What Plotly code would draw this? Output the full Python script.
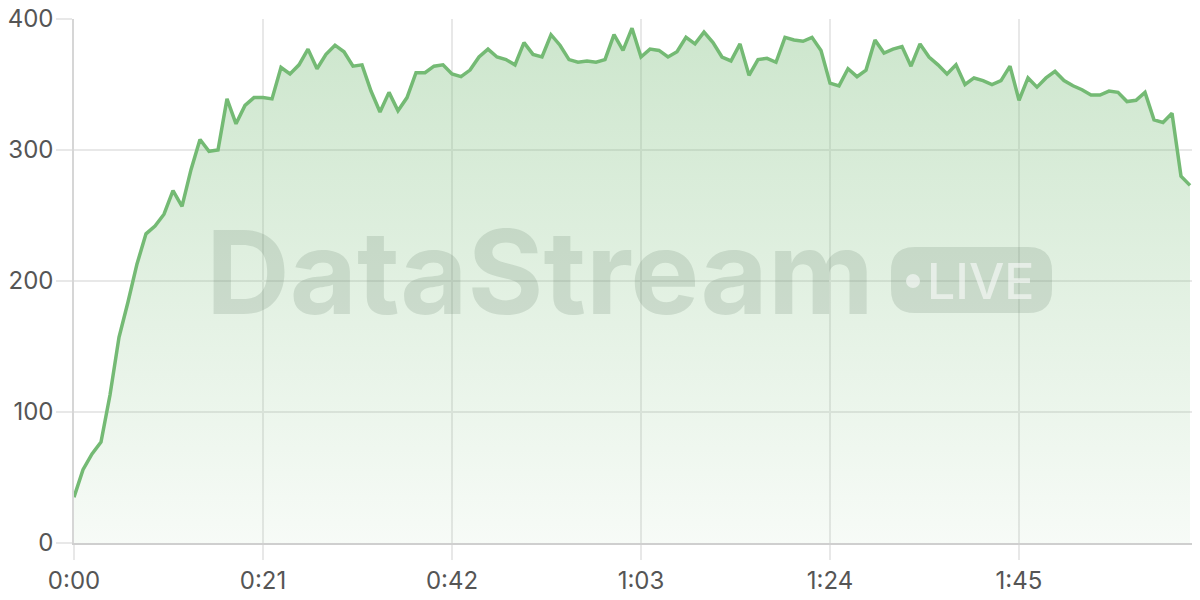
import plotly.graph_objects as go

# valores por segundo (0:00 ate 2:04)
valores = [
    35, 56, 68, 77, 113, 157, 184, 213, 236, 242,
    251, 269, 257, 285, 308, 299, 300, 339, 320, 334,
    340, 340, 339, 363, 358, 365, 377, 362, 373, 380,
    375, 364, 365, 345, 329, 344, 330, 340, 359, 359,
    364, 365, 358, 356, 361, 371, 377, 371, 369, 365,
    382, 373, 371, 388, 380, 369, 367, 368, 367, 369,
    388, 376, 393, 371, 377, 376, 371, 375, 386, 381,
    390, 382, 371, 368, 381, 357, 369, 370, 367, 386,
    384, 383, 386, 376, 351, 349, 362, 356, 361, 384,
    374, 377, 379, 364, 381, 371, 365, 358, 365, 350,
    355, 353, 350, 353, 364, 338, 355, 348, 355, 360,
    353, 349, 346, 342, 342, 345, 344, 337, 338, 344,
    323, 321, 328, 280, 273,
]
segundos = list(range(len(valores)))

ticks_x = [0, 21, 42, 63, 84, 105]
rotulos_x = ["0:00", "0:21", "0:42", "1:03", "1:24", "1:45"]
ticks_y = [0, 100, 200, 300, 400]

verde = "rgb(116,186,116)"
cinza_grade = "#e8e8e8"

# a pagina tem 8px de margem no body: a figura comeca em (8, 8)
OFF = 8
# area do grafico em pixels da pagina (para posicionar a marca d'agua)
ESQ, DIR, TOPO, BASE = 74, 1200, 19, 543


def px_x(p):
    return (p - ESQ) / (DIR - ESQ)


def px_y(p):
    return (BASE - p) / (BASE - TOPO)


fig = go.Figure()
fig.add_trace(
    go.Scatter(
        x=segundos,
        y=valores,
        mode="lines",
        line=dict(color=verde, width=3.5),
        fill="tozeroy",
        fillgradient=dict(
            type="vertical",
            colorscale=[
                [0, "rgba(116,186,116,0.06)"],
                [1, "rgba(116,186,116,0.36)"],
            ],
        ),
        hoverinfo="skip",
    )
)

# marca d'agua "DataStream  LIVE"
cor_marca = "rgba(95,120,100,0.19)"
fig.add_annotation(
    text="<b>DataStream</b>",
    xref="paper", yref="paper",
    x=px_x(540), y=px_y(272),
    xanchor="center", yanchor="middle",
    showarrow=False,
    font=dict(family="Inter", size=116, color=cor_marca),
)

x0, x1, y0, y1, r = 891, 1052, 247, 313, 24


def pt(a, b):
    return f"{px_x(a):.5f},{px_y(b):.5f}"


caminho = (
    f"M {pt(x0 + r, y0)} L {pt(x1 - r, y0)} Q {pt(x1, y0)} {pt(x1, y0 + r)} "
    f"L {pt(x1, y1 - r)} Q {pt(x1, y1)} {pt(x1 - r, y1)} "
    f"L {pt(x0 + r, y1)} Q {pt(x0, y1)} {pt(x0, y1 - r)} "
    f"L {pt(x0, y0 + r)} Q {pt(x0, y0)} {pt(x0 + r, y0)} Z"
)
fig.add_shape(
    type="path", path=caminho, xref="paper", yref="paper",
    fillcolor=cor_marca, line=dict(width=0),
)
fig.add_shape(
    type="circle", xref="paper", yref="paper",
    x0=px_x(906), x1=px_x(920), y0=px_y(288), y1=px_y(274),
    fillcolor="rgba(255,255,255,0.55)", line=dict(width=0),
)
fig.add_annotation(
    text="LIVE",
    xref="paper", yref="paper",
    x=px_x(925), y=px_y(281),
    xanchor="left", yanchor="middle",
    showarrow=False,
    font=dict(family="Inter", size=50, weight=500, color="rgba(255,255,255,0.55)"),
)

fig.update_layout(
    width=1200 - OFF,
    height=600 - OFF,
    margin=dict(l=ESQ - OFF, r=0, t=TOPO - OFF, b=600 - BASE, autoexpand=False),
    plot_bgcolor="white",
    paper_bgcolor="white",
    showlegend=False,
    font=dict(family="Inter", size=24, color="#555555"),
    xaxis=dict(
        range=[0, (DIR - ESQ) / 9.0],
        tickvals=ticks_x,
        ticktext=rotulos_x,
        automargin=False,
        ticklabeloverflow="allow",
        showgrid=True,
        gridcolor=cinza_grade,
        gridwidth=1.5,
        ticks="outside",
        ticklen=15,
        tickwidth=1.5,
        tickcolor=cinza_grade,
        showline=True,
        linecolor="#cfcfcf",
        linewidth=1.5,
        zeroline=False,
    ),
    yaxis=dict(
        range=[0, 400],
        tickvals=ticks_y,
        automargin=False,
        ticklabeloverflow="allow",
        ticklabelstandoff=-2,
        showgrid=True,
        gridcolor=cinza_grade,
        gridwidth=1.5,
        ticks="outside",
        ticklen=16,
        tickwidth=1.5,
        tickcolor=cinza_grade,
        showline=True,
        linecolor="#d6d6d6",
        linewidth=1.5,
        zeroline=False,
    ),
)

fig.write_html("out.html")
